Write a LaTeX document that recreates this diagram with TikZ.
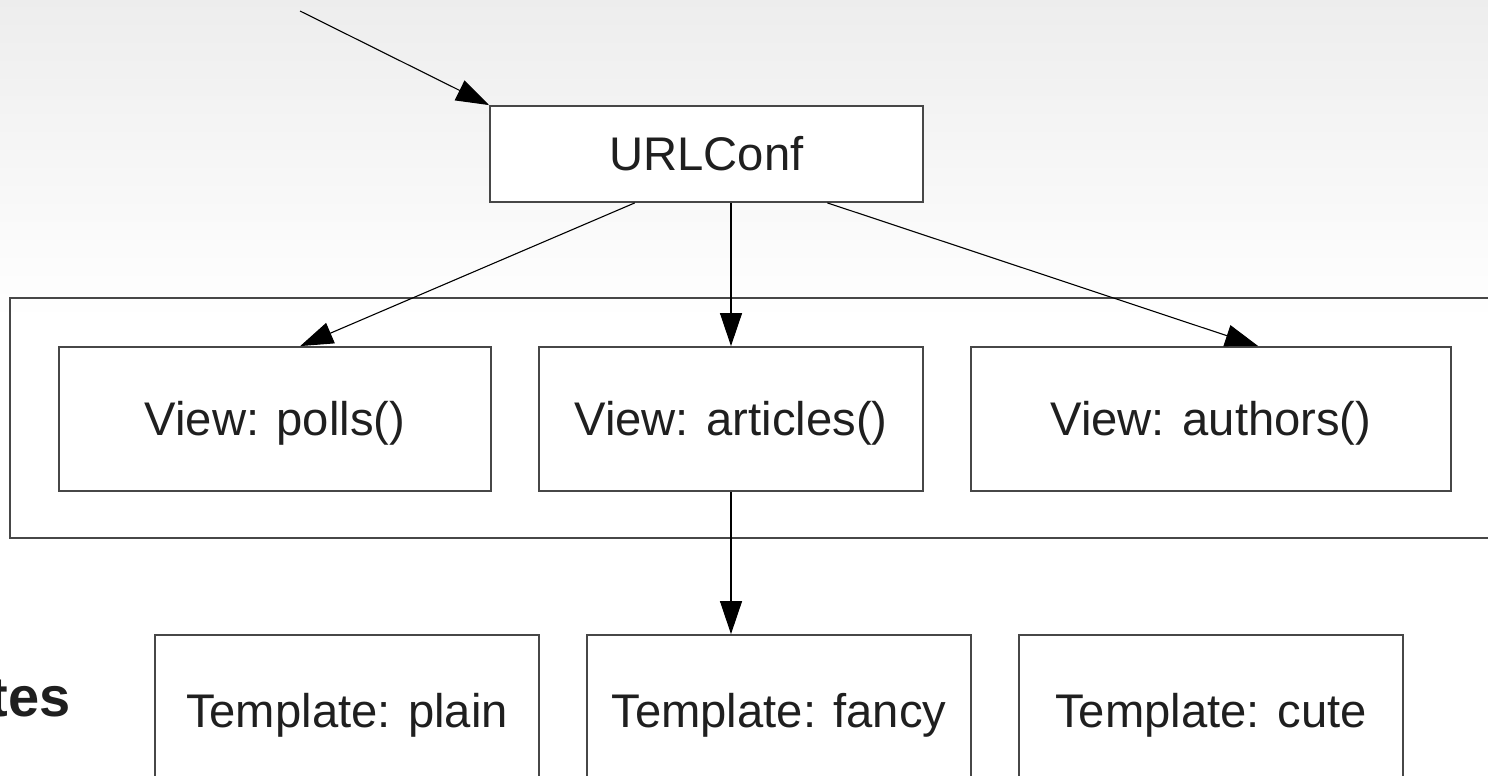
\documentclass[tikz,border=0pt]{standalone}
\usepackage{fontspec}
\setmainfont{Liberation Sans}
\usetikzlibrary{arrows.meta,calc}
\tikzset{
  box/.style={draw=black!72, line width=0.9pt, fill=white, inner sep=0pt, font=\fontsize{23.6pt}{28pt}\selectfont, text=black!88, text height=16.5pt, text depth=0pt},
  conn/.style={draw=black, line width=0.55pt, -{Triangle[length=16.5pt,width=11pt]}},
}
\begin{document}
\begin{tikzpicture}[x=0.5pt,y=-0.5pt]
\useasboundingbox (0,0) rectangle (1488,776);
\fill[white] (0,0) rectangle (1488,776);
\shade[top color=black!7, bottom color=white] (0,0) rectangle (1488,320);
% group box
\node[box, fill=none, minimum width=755pt, minimum height=120pt] (group) at (765,418) {};
% nodes
\node[box, minimum width=216.5pt, minimum height=48pt] (url) at (706.5,154) {URLConf};
\node[box, minimum width=216pt, minimum height=72pt] (polls) at (275,419) {View: polls()};
\node[box, minimum width=192pt, minimum height=72pt] (articles) at (731,419) {View: articles()};
\node[box, minimum width=240pt, minimum height=72pt] (authors) at (1211,419) {View: authors()};
\node[box, minimum width=192pt, minimum height=76pt] (plain) at (347,711) {Template: plain};
\node[box, minimum width=192pt, minimum height=76pt] (fancy) at (779,711) {Template: fancy};
\node[box, minimum width=192pt, minimum height=76pt] (cute) at (1211,711) {Template: cute};
\node[anchor=base east, inner sep=0pt, font=\bfseries\fontsize{28pt}{32pt}\selectfont, text=black!88] (title) at (71,716) {tes};
% connectors
\coordinate (entry) at (300,11);
\draw[conn] (entry) -- (url.north west);
\draw[conn] ($(url.south west)!0.335!(url.south east)$) -- ($(polls.north west)!0.558!(polls.north east)$);
\draw[conn] (url.south -| articles.north) -- (articles.north);
\draw[conn] ($(url.south west)!0.778!(url.south east)$) -- ($(authors.north west)!0.598!(authors.north east)$);
\draw[conn] (articles.south) -- (fancy.north -| articles.south);
\end{tikzpicture}
\end{document}
